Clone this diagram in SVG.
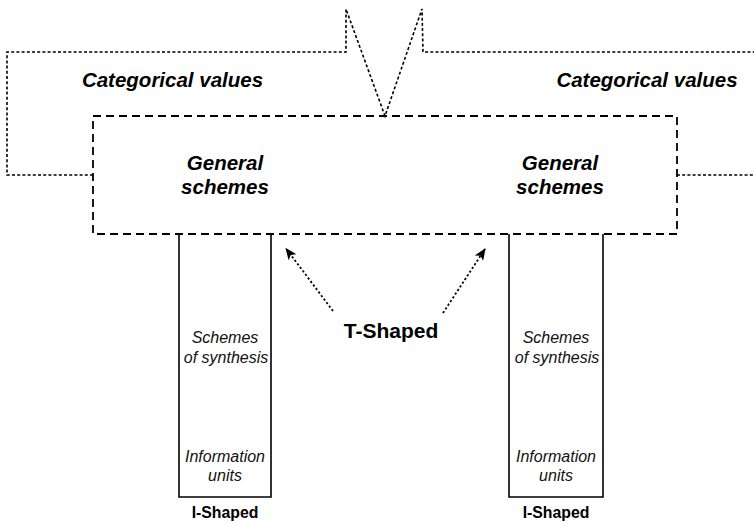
<svg xmlns="http://www.w3.org/2000/svg" width="754" height="522" viewBox="0 0 754 522">
  <style>
    .dotted { fill: none; stroke: #000; stroke-width: 1.6; stroke-dasharray: 3 2.2; }
    .dashed { fill: none; stroke: #000; stroke-width: 1.8; stroke-dasharray: 8 5; }
    .solid { fill: none; stroke: #000; stroke-width: 1.6; }
    .arrow { fill: none; stroke: #000; stroke-width: 1.8; stroke-dasharray: 2.2 2.2; }
    text { font-family: "Liberation Sans", Arial, sans-serif; fill: #000; text-anchor: middle; }
    .cat { font-size: 20.5px; font-weight: bold; font-style: italic; }
    .gen { font-size: 20.5px; font-weight: bold; font-style: italic; }
    .inner { font-size: 16px; font-style: italic; fill: #111; }
    .tshape { font-size: 21px; font-weight: bold; }
    .ishape { font-size: 15.8px; font-weight: bold; }
  </style>
  <defs>
    <marker id="head" viewBox="0 0 12 10" refX="11" refY="5" markerWidth="12" markerHeight="10" markerUnits="userSpaceOnUse" orient="auto">
      <path d="M0,0 L12,5 L0,10 L3,5 Z" fill="#000"/>
    </marker>
  </defs>

  <!-- outer categorical-values outline -->
  <g id="categorical">
    <path class="dotted" d="M93,175 L7,175 L7,52 L346,52 L346,9 L385,116 L422,9 L423,52 L754,52"/>
    <path class="dotted" d="M677,175 L754,175"/>
    <text class="cat" x="172.5" y="87">Categorical values</text>
    <text class="cat" x="647" y="87">Categorical values</text>
  </g>

  <!-- general schemes bar -->
  <g id="general">
    <rect class="dashed" x="93" y="116" width="584" height="118"/>
    <text class="gen" x="225" y="169.5">General</text>
    <text class="gen" x="225" y="193.5">schemes</text>
    <text class="gen" x="560" y="169.5">General</text>
    <text class="gen" x="560" y="193.5">schemes</text>
  </g>

  <!-- left vertical stem -->
  <g id="stem-left">
    <path class="solid" d="M179,234 L179,497 L271,497 L271,234"/>
    <text class="inner" x="225" y="343">Schemes</text>
    <text class="inner" x="226" y="362.5">of synthesis</text>
    <text class="inner" x="225" y="461.5">Information</text>
    <text class="inner" x="225" y="480.5">units</text>
    <text class="ishape" x="225" y="518">I-Shaped</text>
  </g>

  <!-- right vertical stem -->
  <g id="stem-right">
    <path class="solid" d="M509,234 L509,497 L603,497 L603,234"/>
    <text class="inner" x="556" y="343">Schemes</text>
    <text class="inner" x="557" y="362.5">of synthesis</text>
    <text class="inner" x="556" y="461.5">Information</text>
    <text class="inner" x="556" y="480.5">units</text>
    <text class="ishape" x="556" y="518">I-Shaped</text>
  </g>

  <!-- T-shaped label -->
  <g id="tshaped">
    <text class="tshape" x="391" y="338">T-Shaped</text>
  </g>

  <!-- connectors -->
  <g id="connectors">
    <path class="arrow" d="M333,311 L286,248.5" marker-end="url(#head)"/>
    <path class="arrow" d="M443,313 L485,249" marker-end="url(#head)"/>
  </g>
</svg>
